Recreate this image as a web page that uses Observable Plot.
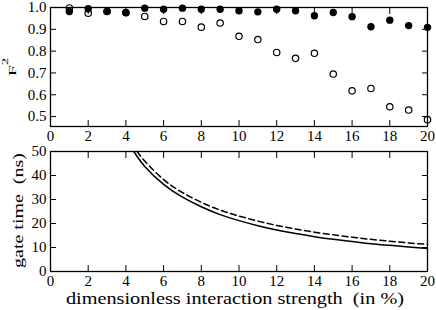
<!DOCTYPE html>
<html><head><meta charset="utf-8">
<script src="https://cdn.jsdelivr.net/npm/d3@7"></script>
<script src="https://cdn.jsdelivr.net/npm/@observablehq/plot@0.6"></script>
<style>
html,body{margin:0;padding:0;background:#fff;}
#chart{width:436px;height:310px;overflow:hidden;background:#fff;}
#chart svg{display:block;}
</style></head><body><div id="chart"></div>
<script>
// ---- data ----
const strength = [1,2,3,4,5,6,7,8,9,10,11,12,13,14,15,16,17,18,19,20];
const fidelityFilled = [0.982,0.994,0.983,0.977,0.997,0.992,0.997,0.992,0.992,0.985,0.980,0.992,0.985,0.962,0.977,0.958,0.912,0.942,0.917,0.909];
const fidelityOpen   = [0.998,0.974,0.982,0.976,0.959,0.936,0.936,0.910,0.929,0.868,0.853,0.794,0.767,0.790,0.695,0.618,0.629,0.545,0.530,0.486];

const solidX  = [4.42,5,6,7,8,9,10,11,12,13,14,15,16,17,18,19,20];
const solidY  = [50,43.8,36.3,31.0,27.0,23.7,21.2,19.1,17.3,15.8,14.5,13.4,12.5,11.6,10.9,10.2,9.6];
const dashedX = [4.6,5,6,7,8,9,10,11,12,13,14,15,16,17,18,19,20];
const dashedY = [50,46.0,38.3,32.9,28.8,25.6,23.1,21.0,19.2,17.7,16.4,15.3,14.3,13.4,12.6,11.9,11.3];

const xTicks = [0,2,4,6,8,10,12,14,16,18,20];
const fTicks = [0.5,0.6,0.7,0.8,0.9,1.0];
const gTicks = [0,10,20,30,40,50];

const xLabel = "dimensionless interaction strength\u00a0 (in %)";
const gLabel = "gate time\u00a0 (ns)";

// ---- tables ----
const filledPts = strength.map((x, i) => ({x, y: fidelityFilled[i]}));
const openPts = strength.map((x, i) => ({x, y: fidelityOpen[i]}));
const solidPts = solidX.map((x, i) => ({x, y: solidY[i]}));
const dashedPts = dashedX.map((x, i) => ({x, y: dashedY[i]}));

const font = "Liberation Serif, serif";
const style = {fontFamily: font, fontSize: "15px", background: "white", color: "black", overflow: "visible"};

const topChart = Plot.plot({
  width: 436, height: 146,
  marginLeft: 50, marginRight: 9, marginTop: 7, marginBottom: 20,
  style,
  x: {domain: [0, 20]},
  y: {domain: [0.4545, 1.0]},
  marks: [
    Plot.axisX(xTicks, {anchor: "bottom", tickSize: -6, tickPadding: 10, label: null}),
    Plot.axisX(xTicks, {anchor: "top", tickSize: -6, tickFormat: () => "", label: null}),
    Plot.axisY(fTicks, {anchor: "left", tickSize: -6, tickPadding: 10, tickFormat: d => d.toFixed(1), label: null}),
    Plot.axisY(fTicks, {anchor: "right", tickSize: -6, tickFormat: () => "", label: null}),
    Plot.dot(filledPts, {x: "x", y: "y", r: 3.7, fill: "black", stroke: "none"}),
    Plot.dot(openPts, {x: "x", y: "y", r: 3.2, fill: "none", stroke: "black", strokeWidth: 1.2}),
    Plot.frame({stroke: "black", strokeWidth: 1.3})
  ]
});

const bottomChart = Plot.plot({
  width: 436, height: 164,
  marginLeft: 50, marginRight: 9, marginTop: 5, marginBottom: 39,
  style,
  x: {domain: [0, 20]},
  y: {domain: [0, 50]},
  marks: [
    Plot.axisX(xTicks, {anchor: "bottom", tickSize: -6, tickPadding: 10, label: null}),
    Plot.axisX(xTicks, {anchor: "top", tickSize: -6, tickFormat: () => "", label: null}),
    Plot.axisY(gTicks, {anchor: "left", tickSize: -6, tickPadding: 10, label: null}),
    Plot.axisY(gTicks, {anchor: "right", tickSize: -6, tickFormat: () => "", label: null}),
    Plot.line(solidPts, {x: "x", y: "y", curve: "natural", stroke: "black", strokeWidth: 1.5}),
    Plot.line(dashedPts, {x: "x", y: "y", curve: "natural", stroke: "black", strokeWidth: 1.5, strokeDasharray: "6,3.5"}),
    Plot.frame({stroke: "black", strokeWidth: 1.3})
  ]
});

const root = document.getElementById("chart");
root.appendChild(topChart);
root.appendChild(bottomChart);

// axis titles
const t = d3.select(topChart);
const ft = t.append("text")
  .attr("transform", "translate(15.7,67) rotate(-90) scale(2,1)")
  .attr("text-anchor", "middle")
  .attr("font-family", font)
  .attr("font-size", 10)
  .attr("fill", "black");
ft.append("tspan").text("F");
ft.append("tspan").attr("font-size", 7.5).attr("dy", -7.7).text("2");

const b = d3.select(bottomChart);
b.append("text")
  .attr("transform", "translate(22.7,64.5) rotate(-90)")
  .attr("text-anchor", "middle")
  .attr("font-family", font)
  .attr("font-size", 15)
  .attr("textLength", 115)
  .attr("lengthAdjust", "spacingAndGlyphs")
  .attr("fill", "black")
  .text(gLabel);
b.append("text")
  .attr("x", 235).attr("y", 157.5)
  .attr("text-anchor", "middle")
  .attr("font-family", font)
  .attr("font-size", 16)
  .attr("textLength", 338)
  .attr("lengthAdjust", "spacingAndGlyphs")
  .attr("fill", "black")
  .text(xLabel);
</script></body></html>
